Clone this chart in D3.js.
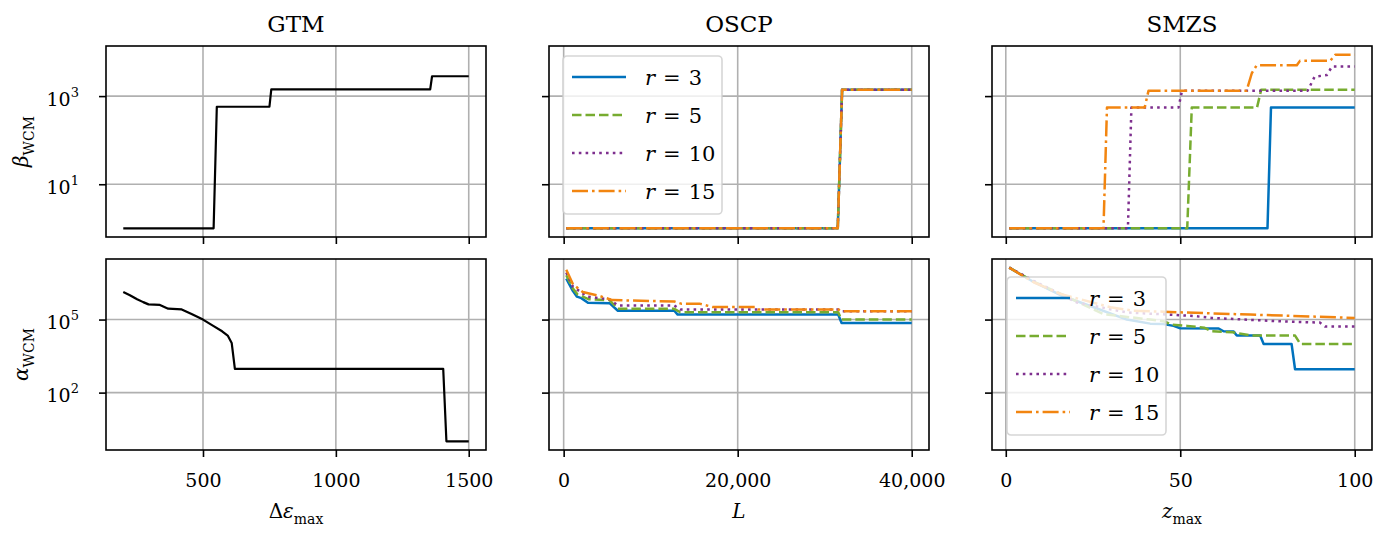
<!DOCTYPE html>
<html>
<head>
<meta charset="utf-8">
<script src="https://cdn.jsdelivr.net/npm/d3@7"></script>
<style>
  body { margin: 0; background: #fff; }
  svg { display: block; }
  text { font-family: "DejaVu Serif", serif; fill: #000; }
</style>
</head>
<body>
<svg id="chart"></svg>
<script>
// figure size
var svgWidth = 1392, svgHeight = 533;

// data
var panelTitles = ["GTM", "OSCP", "SMZS"];
var rValues = [3, 5, 10, 15];

var gtmBeta = [[200,1],[540,1],[552,573],[750,573],[757,1420],[1355,1420],[1362,2820],[1500,2820]];
var gtmAlpha = [[200,1.35e6],[225,1.0e6],[252,6.8e5],[275,5.2e5],[295,4.2e5],[338,4.0e5],[369,2.8e5],
  [420,2.6e5],[457,1.7e5],[500,1.0e5],[537,5.6e4],[572,3.3e4],[593,2.2e4],[608,1.1e4],[620,950],
  [1404,950],[1416,1],[1500,1]];

// OSCP, one series per r
var oscpBeta = [
  [[300,1],[31500,1],[32000,1400],[40000,1400]],
  [[300,1],[31500,1],[32000,1400],[40000,1400]],
  [[300,1],[31500,1],[32000,1400],[40000,1400]],
  [[300,1],[31500,1],[32000,1400],[40000,1400]]
];
var oscpAlpha = [
  [[300,4.8e6],[1070,1.48e6],[1530,8.7e5],[2030,7.6e5],[2790,4.9e5],[5270,4.7e5],[6230,2.3e5],
   [12720,2.3e5],[13100,1.6e5],[31550,1.6e5],[31940,7.2e4],[40000,7.2e4]],
  [[300,6.6e6],[1070,1.86e6],[1600,1.07e6],[2200,8.7e5],[2900,6.8e5],[5270,6.3e5],[6230,2.75e5],
   [12720,2.75e5],[13400,2.0e5],[31550,2.0e5],[31940,1.0e5],[40000,1.0e5]],
  [[300,8.5e6],[1070,2.24e6],[1800,1.48e6],[2700,8.7e5],[5270,6.8e5],[6230,3.8e5],
   [12720,3.8e5],[13400,2.6e5],[31550,2.6e5],[31940,2.2e5],[40000,2.2e5]],
  [[300,1.1e7],[1070,2.8e6],[2200,1.35e6],[4200,9.1e5],[5600,6.3e5],[12720,5.5e5],[13500,4.5e5],
   [15600,4.5e5],[17100,3.3e5],[22000,3.3e5],[22300,2.6e5],[31550,2.6e5],[31940,2.2e5],[40000,2.2e5]]
];

// SMZS, one series per r
var smzsBeta = [
  [[1,1],[75,1],[76,550],[100,550]],
  [[1,1],[52,1],[53.3,550],[72,550],[73.2,1400],[100,1400]],
  [[1,1],[35,1],[36,550],[49.5,550],[50.5,1320],[86.5,1320],[88.5,2750],[92,3000],[93.5,4700],[100,4700]],
  [[1,1],[28,1],[29,550],[39.8,550],[40.9,1320],[69,1320],[70.5,3300],[71.9,5000],[83.4,5000],
   [84.3,6300],[93,6300],[94.4,8700],[100,8700]]
];
var smzsAlpha = [
  [[1,1.35e7],[8,3.5e6],[15.7,1.0e6],[25.2,3.2e5],[34.7,1.0e5],[41.4,6.8e4],[45.2,6.5e4],[48.1,5.5e4],
   [50,4.4e4],[61,4.3e4],[62.4,3.3e4],[65.3,3.2e4],[66.2,2.2e4],[72.9,2.2e4],[73.9,1.0e4],
   [81.9,1.0e4],[82.9,910],[100,910]],
  [[1,1.35e7],[8,3.6e6],[16,1.1e6],[28,1.66e5],[41.4,1.0e5],[45.2,8.5e4],[47.6,6.2e4],[52,5.5e4],
   [57,4.6e4],[59,3.3e4],[65,3.0e4],[70.6,2.2e4],[82.9,2.2e4],[84.4,1.0e4],[100,1.0e4]],
  [[1,1.35e7],[8,3.9e6],[20.4,5.0e5],[34.7,1.95e5],[44.3,1.66e5],[53.8,1.4e5],[59,1.17e5],
   [78.2,8.5e4],[90,7.5e4],[91.5,5.2e4],[100,5.2e4]],
  [[1,1.35e7],[8,3.4e6],[15.7,1.12e6],[30,3.2e5],[36.6,2.3e5],[45.2,2.1e5],[49.5,2.0e5],
   [70,1.6e5],[100,1.17e5]]
];

// ticks
var gtmTicks = [500, 1000, 1500];
var oscpTicks = [0, 20000, 40000];
var smzsTicks = [0, 50, 100];
var betaTicks = [10, 1000];
var alphaTicks = [100, 100000];

// styles
var colors = ["#0072BD", "#77AC30", "#7E2F8E", "#F28510"];
var dashes = [null, "9.5,4", "2.6,4.2", "16,4,2.6,4"];
var lineWidth = 2.5;

// layout
var colLeft = [106, 549, 992];
var rowTop = [46, 259];
var panelW = 380, panelH = 191;

var svg = d3.select("#chart")
    .attr("width", svgWidth)
    .attr("height", svgHeight);

function padLin(ext) {
  var d = (ext[1] - ext[0]) * 0.05;
  return [ext[0] - d, ext[1] + d];
}
function padLog(ext) {
  var a = Math.log10(ext[0]), b = Math.log10(ext[1]), d = (b - a) * 0.05;
  return [Math.pow(10, a - d), Math.pow(10, b + d)];
}

var colData = [[gtmBeta, gtmAlpha], oscpBeta.concat(oscpAlpha), smzsBeta.concat(smzsAlpha)];
var rowData = [[gtmBeta].concat(oscpBeta, smzsBeta), [gtmAlpha].concat(oscpAlpha, smzsAlpha)];

var xScales = colData.map(function (list, i) {
  var ext = d3.extent(d3.merge(list), function (d) { return d[0]; });
  return d3.scaleLinear().domain(padLin(ext)).range([colLeft[i], colLeft[i] + panelW]);
});
var yScales = rowData.map(function (list, j) {
  var ext = d3.extent(d3.merge(list), function (d) { return d[1]; });
  return d3.scaleLog().domain(padLog(ext)).range([rowTop[j] + panelH, rowTop[j]]);
});

var xTicks = [gtmTicks, oscpTicks, smzsTicks];
var yTicks = [betaTicks, alphaTicks];
var xFormats = [d3.format("d"), d3.format(","), d3.format("d")];

function drawPanel(i, j, seriesList, single) {
  var x = xScales[i], y = yScales[j];
  var g = svg.append("g");
  var x0 = colLeft[i], y0 = rowTop[j];

  // grid
  g.selectAll(".gx").data(xTicks[i]).enter().append("line")
    .attr("x1", function (d) { return x(d); }).attr("x2", function (d) { return x(d); })
    .attr("y1", y0).attr("y2", y0 + panelH)
    .attr("stroke", "#b0b0b0").attr("stroke-width", 1.6);
  g.selectAll(".gy").data(yTicks[j]).enter().append("line")
    .attr("x1", x0).attr("x2", x0 + panelW)
    .attr("y1", function (d) { return y(d); }).attr("y2", function (d) { return y(d); })
    .attr("stroke", "#b0b0b0").attr("stroke-width", 1.6);

  // lines
  var line = d3.line().x(function (d) { return x(d[0]); }).y(function (d) { return y(d[1]); });
  seriesList.forEach(function (s, k) {
    g.append("path")
      .attr("d", line(s))
      .attr("fill", "none")
      .attr("stroke", single ? "#000" : colors[k])
      .attr("stroke-width", single ? 2.2 : lineWidth)
      .attr("stroke-dasharray", single ? null : dashes[k])
      .attr("stroke-linejoin", "round");
  });

  // x axis
  var xa = d3.axisBottom(x).tickValues(xTicks[i]).tickSize(7).tickPadding(16.5)
    .tickFormat(j === 1 ? xFormats[i] : "");
  var gx = g.append("g").attr("transform", "translate(0," + (y0 + panelH) + ")").call(xa);
  gx.select(".domain").remove();
  gx.selectAll(".tick line").attr("stroke", "#000").attr("stroke-width", 1.6);
  gx.selectAll(".tick text").attr("font-family", "DejaVu Serif").attr("font-size", 19).attr("fill", "#000");

  // y axis
  var ya = d3.axisLeft(y).tickValues(yTicks[j]).tickSize(7).tickFormat("");
  var gy = g.append("g").attr("transform", "translate(" + x0 + ",0)").call(ya);
  gy.select(".domain").remove();
  gy.selectAll(".tick line").attr("stroke", "#000").attr("stroke-width", 1.6);
  if (i === 0) {
    gy.selectAll(".tick text").each(function (d) {
      var t = d3.select(this).text(null)
        .attr("x", -27).attr("dy", null).attr("y", 9)
        .attr("text-anchor", "end")
        .attr("font-family", "DejaVu Serif").attr("font-size", 19).attr("fill", "#000");
      t.append("tspan").text("10");
      t.append("tspan").attr("dy", -9).attr("font-size", 13).text(Math.round(Math.log10(d)));
    });
  }

  // frame
  g.append("rect")
    .attr("x", x0).attr("y", y0).attr("width", panelW).attr("height", panelH)
    .attr("fill", "none").attr("stroke", "#000").attr("stroke-width", 1.6);
  return g;
}

function drawLegend(left, top) {
  var g = svg.append("g").attr("transform", "translate(" + left + "," + top + ")");
  g.append("rect")
    .attr("x", 0).attr("y", 0).attr("width", 159).attr("height", 158).attr("rx", 4)
    .attr("fill", "#fff").attr("fill-opacity", 0.8)
    .attr("stroke", "#cccccc").attr("stroke-opacity", 0.8).attr("stroke-width", 1.6);
  var rowsY = [21, 59, 97, 135];
  rValues.forEach(function (r, k) {
    g.append("line")
      .attr("x1", 9).attr("x2", 63).attr("y1", rowsY[k]).attr("y2", rowsY[k])
      .attr("stroke", colors[k]).attr("stroke-width", lineWidth)
      .attr("stroke-dasharray", dashes[k]);
    var t = g.append("text").attr("x", 82).attr("y", rowsY[k] + 7.5).attr("font-size", 21);
    t.append("tspan").attr("font-style", "italic").text("r");
    t.append("tspan").attr("dx", 8).text("=");
    t.append("tspan").attr("dx", 8).text(r);
  });
}

// panels
drawPanel(0, 0, [gtmBeta], true);
drawPanel(0, 1, [gtmAlpha], true);
drawPanel(1, 0, oscpBeta, false);
drawPanel(1, 1, oscpAlpha, false);
drawPanel(2, 0, smzsBeta, false);
drawPanel(2, 1, smzsAlpha, false);

drawLegend(563, 56);
drawLegend(1007, 277);

// titles
panelTitles.forEach(function (name, i) {
  svg.append("text")
    .attr("x", colLeft[i] + panelW / 2).attr("y", 31.5)
    .attr("text-anchor", "middle").attr("font-size", 23)
    .text(name);
});

// x labels
var xlabY = 518;
var xl0 = svg.append("text").attr("x", colLeft[0] + panelW / 2).attr("y", xlabY)
  .attr("text-anchor", "middle").attr("font-size", 20);
xl0.append("tspan").text("Δ");
xl0.append("tspan").attr("font-style", "italic").text("ε");
xl0.append("tspan").attr("dy", 6).attr("font-size", 14).text("max");

svg.append("text").attr("x", colLeft[1] + panelW / 2).attr("y", xlabY)
  .attr("text-anchor", "middle").attr("font-size", 20).attr("font-style", "italic").text("L");

var xl2 = svg.append("text").attr("x", colLeft[2] + panelW / 2).attr("y", xlabY)
  .attr("text-anchor", "middle").attr("font-size", 20);
xl2.append("tspan").attr("font-style", "italic").text("z");
xl2.append("tspan").attr("dy", 6).attr("font-size", 14).text("max");

// y labels
var ylabels = ["β", "α"];
ylabels.forEach(function (sym, j) {
  var cy = rowTop[j] + panelH / 2;
  var t = svg.append("text")
    .attr("transform", "translate(28," + cy + ") rotate(-90)")
    .attr("text-anchor", "middle").attr("font-size", 20);
  t.append("tspan").attr("font-style", "italic").text(sym);
  t.append("tspan").attr("dy", 6).attr("font-size", 14).text("WCM");
});
</script>
</body>
</html>
